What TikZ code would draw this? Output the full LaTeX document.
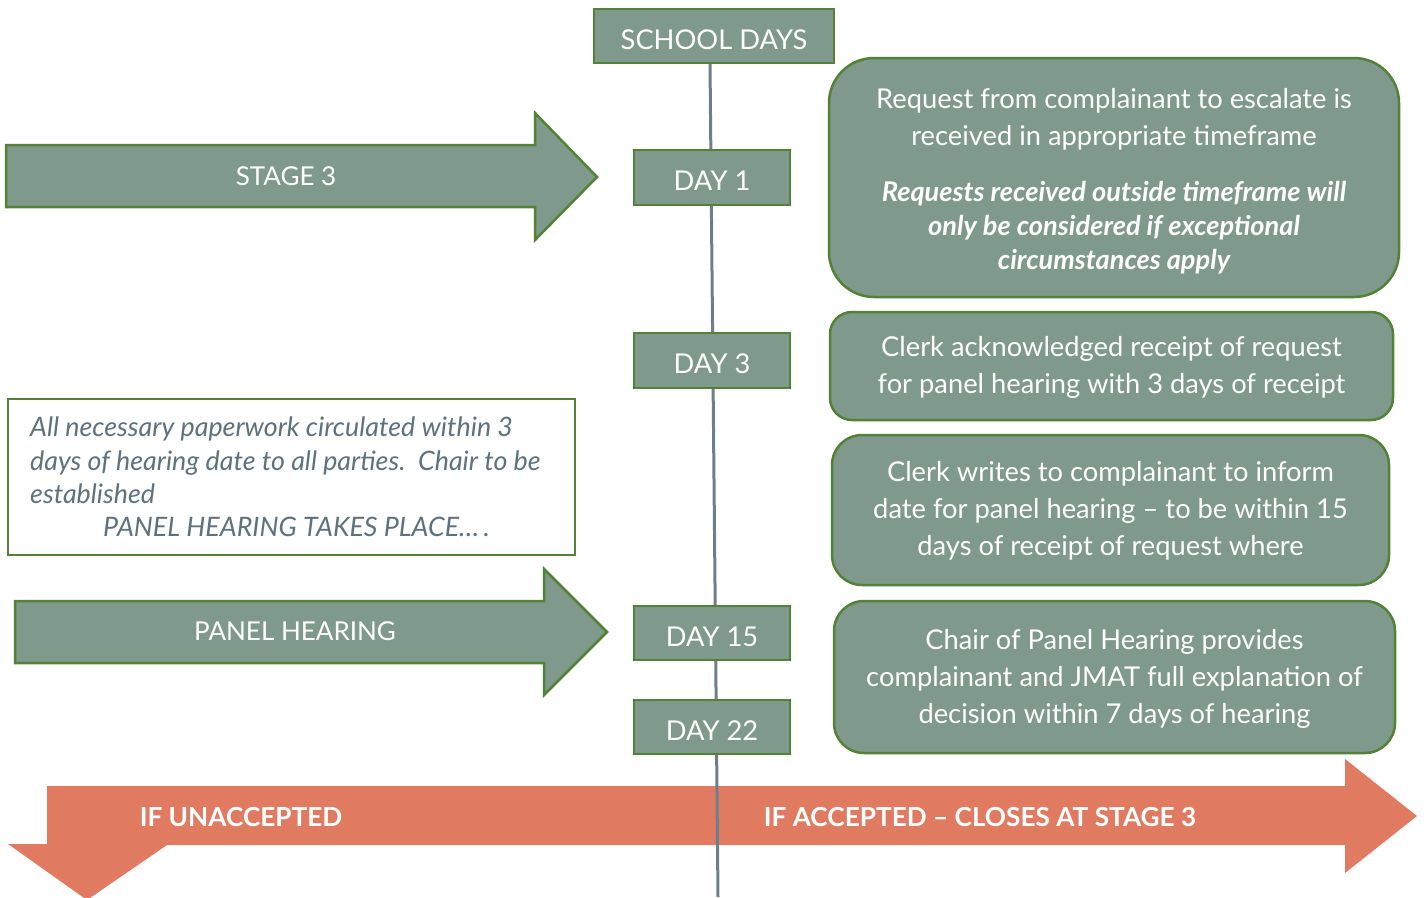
\documentclass[tikz,border=0pt]{standalone}
\usepackage{fontspec}
\setmainfont{Lato}
\definecolor{sage}{HTML}{7F998D}
\definecolor{grn}{HTML}{538135}
\definecolor{orng}{HTML}{E07B62}
\definecolor{tline}{HTML}{6E7F89}
\definecolor{gtext}{HTML}{5E727D}
\tikzset{
  daybox/.style={draw=grn, line width=2.5pt, fill=sage, text=white, minimum width=156pt, minimum height=55pt, inner sep=0pt, text height=26pt, text depth=0pt, font=\fontsize{27.3}{30}\selectfont},
  infobox/.style={draw=grn, line width=2.5pt, fill=sage, inner sep=0pt},
  infotext/.style={text=white, align=center, inner sep=0pt, font=\fontsize{27.3}{37}\selectfont},
  bigarrow/.style={draw=grn, line width=2.5pt, fill=sage},
  arrowtext/.style={text=white, inner sep=0pt, font=\fontsize{26}{30}\selectfont},
  orangetext/.style={text=white, inner sep=0pt, font=\fontsize{26.2}{30}\selectfont\bfseries}
}
\begin{document}
\begin{tikzpicture}[x=1pt,y=-1pt]
\useasboundingbox (0,0) rectangle (1424,897);
% bottom orange bent arrow
\fill[orng] (47,786) -- (1345,786) -- (1345,759) -- (1417,816) -- (1345,873) -- (1345,845)
  -- (167,845) -- (87,900) -- (8,844) -- (47,844) -- cycle;
\node[orangetext] (unacc) at (241,817) {IF UNACCEPTED};
\node[orangetext] (acc) at (980,817) {IF ACCEPTED – CLOSES AT STAGE 3};
% timeline
\coordinate (ltop) at (710,63);
\coordinate (lbot) at (718,897);
\draw[tline, line width=3pt] (ltop) -- (lbot);
% day boxes
\node[daybox, minimum width=240pt, minimum height=54pt] (sd) at (714,36) {SCHOOL DAYS};
\node[daybox] (d1) at (712,177.5) {DAY 1};
\node[daybox] (d3) at (712,360.5) {DAY 3};
\node[daybox, minimum height=54pt] (d15) at (712,633) {DAY 15};
\node[daybox, minimum height=54pt] (d22) at (712,727) {DAY 22};
% left arrows
\draw[bigarrow] (6,145) -- (535,145) -- (535,113) -- (597,177) -- (535,240) -- (535,207) -- (6,207) -- cycle;
\node[arrowtext] (st3) at (286,176) {STAGE 3};
\draw[bigarrow] (15,601) -- (544,601) -- (544,569) -- (607,632) -- (544,695) -- (544,663) -- (15,663) -- cycle;
\node[arrowtext] (ph) at (295,631) {PANEL HEARING};
% left text box
\node[draw=grn, line width=2pt, fill=white, minimum width=567pt, minimum height=156pt, inner sep=0pt] (note) at (291.5,477) {};
\node[anchor=west, align=left, text=gtext, inner sep=0pt, font=\fontsize{26.8}{33.4}\selectfont\itshape] (notetext) at (30,477)
  {All necessary paperwork circulated within 3\\
   days of hearing date to all parties.\ \ Chair to be\\
   established\\
   \hspace*{73pt}PANEL HEARING TAKES PLACE…\,.};
% right info boxes
\node[infobox, rounded corners=45pt, minimum width=570pt, minimum height=239pt] (b1) at (1114,177.5) {};
\node[infotext] (b1a) at (1114,119.5) {Request from complainant to escalate is\\received in appropriate timeframe};
\node[infotext, font=\fontsize{27.2}{34}\selectfont\bfseries\itshape] (b1b) at (1114,228) {Requests received outside timeframe will\\only be considered if exceptional\\circumstances apply};
\node[infobox, rounded corners=22pt, minimum width=563pt, minimum height=108pt] (b2) at (1111.5,366) {};
\node[infotext] (b2t) at (1111.5,367) {Clerk acknowledged receipt of request\\for panel hearing with 3 days of receipt};
\node[infobox, rounded corners=30pt, minimum width=557pt, minimum height=150pt] (b3) at (1110.5,510) {};
\node[infotext] (b3t) at (1110.5,511) {Clerk writes to complainant to inform\\date for panel hearing – to be within 15\\days of receipt of request where};
\node[infobox, rounded corners=30pt, minimum width=561pt, minimum height=152pt] (b4) at (1114.5,677) {};
\node[infotext] (b4t) at (1114.5,678.5) {Chair of Panel Hearing provides\\complainant and JMAT full explanation of\\decision within 7 days of hearing};
\end{tikzpicture}
\end{document}
